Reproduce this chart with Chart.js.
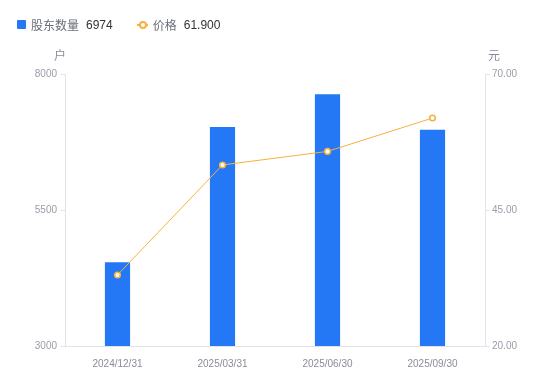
<!DOCTYPE html>
<html>
<head>
<meta charset="utf-8">
<script src="https://cdn.jsdelivr.net/npm/chart.js@4"></script>
<style>
  body { margin: 0; background: #fff; font-family: "Liberation Sans", "Noto Sans CJK SC", sans-serif; }
  #wrap { position: relative; width: 550px; height: 381px; }
  #legend { position: absolute; left: 17px; top: 16px; font-size: 12px; display: flex; align-items: center; }
  .item { display: flex; align-items: center; margin-right: 24px; }
  .name { color: #6b6e7a; margin-right: 7px; }
  .val { color: #333; }
  .sq { width: 9px; height: 9px; background: #2477f5; border-radius: 1px; margin-right: 5px; }
  .ln { position: relative; width: 11px; height: 2px; background: #f5b23c; margin-right: 5px; }
  .ln:after { content: ""; position: absolute; left: 2px; top: -3px; width: 4px; height: 4px; border: 2px solid #f5b23c; border-radius: 50%; background: #fff; }
</style>
</head>
<body>
<div id="wrap">
  <canvas id="c" width="550" height="381"></canvas>
  <div id="legend">
    <div class="item"><span class="sq"></span><span class="name">股东数量</span><span class="val">6974</span></div>
    <div class="item"><span class="ln"></span><span class="name">价格</span><span class="val">61.900</span></div>
  </div>
</div>
<script>
// values
const dates = ['2024/12/31', '2025/03/31', '2025/06/30', '2025/09/30'];
const holders = [4540, 7024, 7628, 6974];
const prices = [33.06, 53.28, 55.77, 61.9];

const axisTitles = {
  id: 'axisTitles',
  afterDraw(chart) {
    const ctx = chart.ctx;
    const a = chart.chartArea;
    ctx.save();
    ctx.font = '12px "Liberation Sans", "Noto Sans CJK SC", sans-serif';
    ctx.fillStyle = '#8a8d99';
    ctx.textBaseline = 'middle';
    ctx.textAlign = 'right';
    ctx.fillText('户', a.left + 1, 57);
    ctx.textAlign = 'left';
    ctx.fillText('元', a.right + 3, 57);
    ctx.restore();
  }
};

const tickFont = { size: 10, family: '"Liberation Sans", "Noto Sans CJK SC", sans-serif' };

new Chart(document.getElementById('c'), {
  data: {
    labels: dates,
    datasets: [{
      type: 'line',
      label: '价格',
      data: prices,
      yAxisID: 'y1',
      borderColor: '#f5b23c',
      borderWidth: 1,
      pointRadius: 2.8,
      pointBorderWidth: 1.5,
      pointBackgroundColor: '#fff',
      pointBorderColor: '#f5b23c',
      tension: 0
    }, {
      type: 'bar',
      label: '股东数量',
      data: holders,
      yAxisID: 'y',
      backgroundColor: '#2477f5',
      categoryPercentage: 1,
      barPercentage: 0.24
    }]
  },
  options: {
    responsive: false,
    animation: false,
    layout: { padding: { top: 74, bottom: 7 } },
    plugins: { legend: { display: false }, tooltip: { enabled: false } },
    scales: {
      x: {
        grid: { display: false },
        border: { color: '#e2e3e8' },
        ticks: { color: '#8a8d99', font: tickFont, padding: 4 }
      },
      y: {
        position: 'left',
        min: 3000, max: 8000,
        afterFit(s) { s.width = 65; },
        grid: { drawOnChartArea: false, tickLength: 5, color: '#e2e3e8' },
        border: { color: '#e2e3e8' },
        ticks: { stepSize: 2500, color: '#9a9caa', font: tickFont, padding: 3,
                 callback: v => String(v) }
      },
      y1: {
        position: 'right',
        min: 20, max: 70,
        afterFit(s) { s.width = 65; },
        grid: { drawOnChartArea: false, tickLength: 5, color: '#e2e3e8' },
        border: { color: '#e2e3e8' },
        ticks: { stepSize: 25, color: '#9a9caa', font: tickFont, padding: 2,
                 callback: v => v.toFixed(2) }
      }
    }
  },
  plugins: [axisTitles]
});
</script>
</body>
</html>
